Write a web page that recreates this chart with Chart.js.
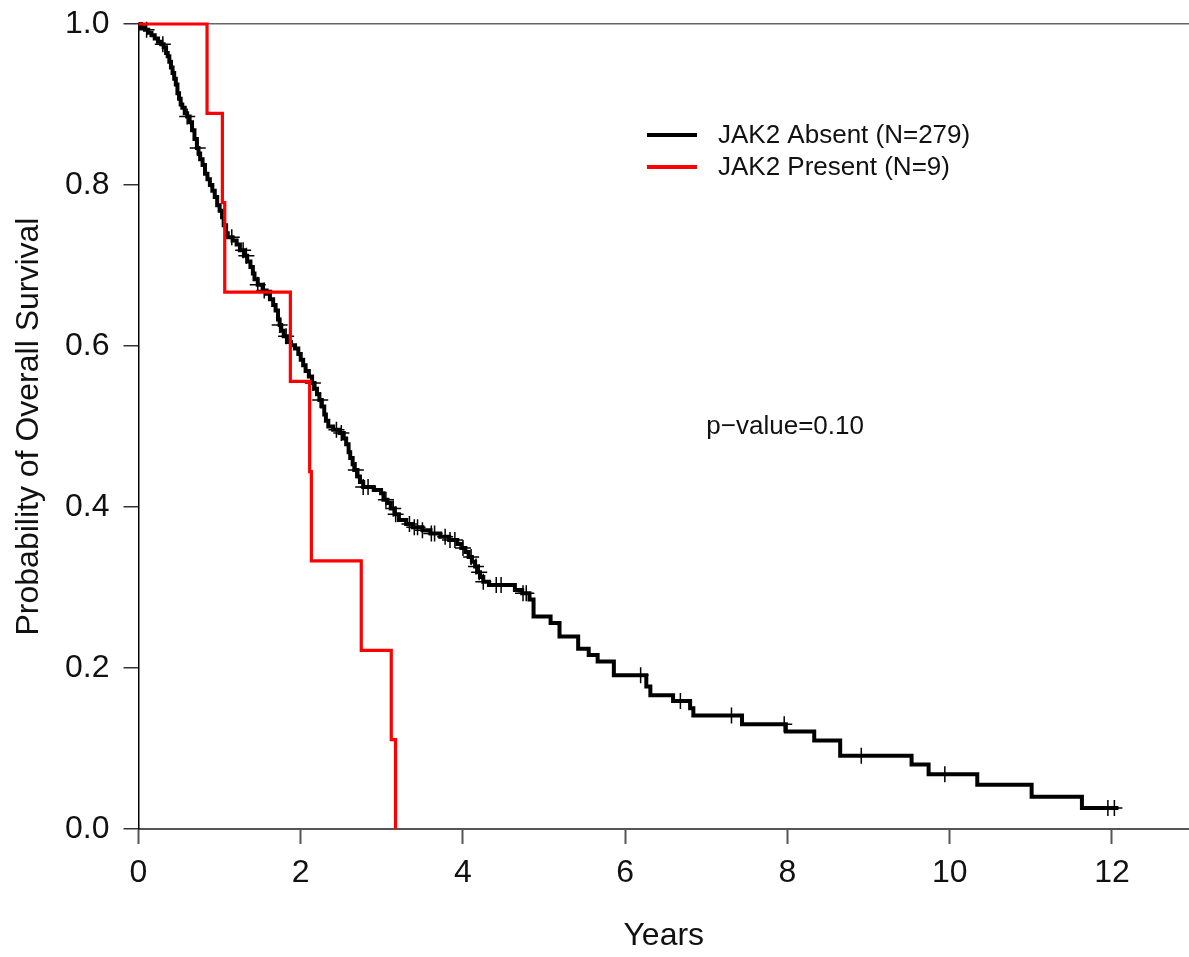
<!DOCTYPE html>
<html><head><meta charset="utf-8">
<script src="https://cdn.jsdelivr.net/npm/chart.js@4.4.1/dist/chart.umd.min.js"></script>
<style>html,body{margin:0;padding:0;background:#fff;} #wrap{width:1189px;height:957px;position:relative;}</style>
</head><body><div id="wrap"><canvas id="c"></canvas></div>
<script>
// ---- data ----
const seriesLabels = ['JAK2 Absent (N=279)', 'JAK2 Present (N=9)'];
const seriesColors = ['#000000', '#ff0000'];

const absentTimes = [0,0.03,0.08,0.12,0.16,0.20,0.24,0.28,0.31,0.34,0.36,0.38,0.40,0.42,0.44,0.46,0.48,0.50,0.52,0.54,0.57,0.60,0.63,0.66,0.69,0.72,0.74,0.76,0.79,0.82,0.85,0.88,0.91,0.94,0.97,1.00,1.03,1.05,1.08,1.10,1.16,1.21,1.25,1.30,1.34,1.38,1.41,1.43,1.47,1.53,1.58,1.62,1.66,1.69,1.72,1.74,1.76,1.79,1.83,1.88,1.93,1.97,2.00,2.03,2.06,2.10,2.14,2.17,2.20,2.23,2.26,2.29,2.31,2.34,2.40,2.48,2.53,2.56,2.59,2.61,2.64,2.66,2.70,2.73,2.77,2.90,2.99,3.02,3.07,3.11,3.16,3.21,3.30,3.38,3.50,3.60,3.72,3.83,3.93,3.98,4.03,4.07,4.11,4.15,4.18,4.21,4.25,4.32,4.64,4.73,4.82,4.87,5.08,5.19,5.42,5.55,5.66,5.86,6.26,6.31,6.59,6.80,6.84,7.44,7.98,8.33,8.65,9.53,9.74,10.34,11.01,11.63,12.08];
const absentSurv = [1,0.996,0.993,0.989,0.986,0.982,0.978,0.975,0.971,0.964,0.960,0.953,0.946,0.939,0.932,0.925,0.914,0.907,0.900,0.896,0.889,0.885,0.878,0.868,0.857,0.846,0.839,0.832,0.825,0.814,0.807,0.800,0.793,0.785,0.775,0.768,0.760,0.750,0.740,0.735,0.731,0.726,0.719,0.712,0.705,0.698,0.690,0.683,0.676,0.669,0.665,0.658,0.651,0.644,0.633,0.626,0.619,0.612,0.605,0.601,0.597,0.590,0.583,0.576,0.569,0.562,0.554,0.547,0.540,0.533,0.525,0.515,0.507,0.500,0.496,0.492,0.485,0.478,0.468,0.461,0.453,0.446,0.438,0.431,0.425,0.421,0.417,0.409,0.405,0.398,0.391,0.384,0.379,0.375,0.371,0.367,0.363,0.359,0.354,0.349,0.344,0.338,0.332,0.326,0.319,0.313,0.307,0.303,0.297,0.293,0.285,0.264,0.256,0.239,0.224,0.216,0.208,0.191,0.177,0.166,0.159,0.150,0.141,0.130,0.121,0.110,0.091,0.080,0.068,0.055,0.040,0.026,0.026];
const absentCensorTimes = [0.10,0.30,0.60,0.73,1.15,1.29,1.33,1.47,1.55,1.74,1.82,2.15,2.24,2.44,2.50,2.68,2.77,2.83,3.05,3.14,3.17,3.34,3.40,3.44,3.50,3.61,3.65,3.78,3.84,3.90,4.00,4.10,4.16,4.20,4.25,4.41,4.47,4.74,4.78,6.19,6.68,7.31,7.96,8.91,9.94,11.95,12.03];

const presentTimes = [0,0.845,1.034,1.063,1.872,2.110,2.131,2.746,3.116,3.169];
const presentSurv = [1,0.889,0.778,0.667,0.556,0.444,0.333,0.222,0.111,0];

const xTickValues = [0,2,4,6,8,10,12];
const yTickValues = [0,0.2,0.4,0.6,0.8,1.0];
const xTitle = 'Years';
const yTitle = 'Probability of Overall Survival';
const pValueText = 'p\u2212value=0.10';
const pValuePos = [7.0, 0.5];

// ---- build datasets ----
const toXY = (ts, ss) => ts.map((t, i) => ({x: t, y: ss[i]}));
function survAt(t) {
  let s = absentSurv[0];
  for (let i = 0; i < absentTimes.length; i++) { if (absentTimes[i] <= t) s = absentSurv[i]; }
  return s;
}
const censorPts = absentCensorTimes.map(t => ({x: t, y: survAt(t)}));

const FONT = '"Liberation Sans", Arial, Helvetica, sans-serif';

const annotPlugin = {
  id: 'annot',
  afterDatasetsDraw(chart) {
    const ctx = chart.ctx;
    ctx.save();
    ctx.font = '26px ' + FONT;
    ctx.textBaseline = 'middle';
    ctx.textAlign = 'left';
    const rows = [135, 167];
    [0, 1].forEach((di, k) => {
      const ds = chart.data.datasets[di];
      ctx.strokeStyle = ds.borderColor;
      ctx.lineWidth = 4;
      ctx.beginPath();
      ctx.moveTo(647, rows[k]);
      ctx.lineTo(697, rows[k]);
      ctx.stroke();
      ctx.fillStyle = '#111';
      ctx.fillText(ds.label, 718, rows[k] + 1);
    });
    const xs = chart.scales.x, ys = chart.scales.y;
    ctx.fillStyle = '#111';
    ctx.fillText(pValueText, xs.getPixelForValue(pValuePos[0]), ys.getPixelForValue(pValuePos[1]));
    ctx.restore();
  }
};

new Chart(document.getElementById('c'), {
  type: 'line',
  data: {
    datasets: [
      {label: seriesLabels[0], data: toXY(absentTimes, absentSurv), borderColor: seriesColors[0], borderWidth: 4, stepped: true, pointRadius: 0, fill: false, clip: false, order: 1},
      {label: seriesLabels[1], data: toXY(presentTimes, presentSurv), borderColor: seriesColors[1], borderWidth: 3.2, stepped: true, pointRadius: 0, fill: false, clip: false, order: 0},
      {label: 'censored', data: censorPts, showLine: false, pointStyle: 'cross', pointRadius: 8, pointBorderWidth: 1.5, borderColor: '#000', backgroundColor: '#000', clip: false, order: 2}
    ]
  },
  plugins: [annotPlugin],
  options: {
    responsive: true,
    maintainAspectRatio: false,
    animation: false,
    events: [],
    layout: {autoPadding: false, padding: {top: 24, right: 0, bottom: 0, left: 0}},
    plugins: {legend: {display: false}, tooltip: {enabled: false}},
    scales: {
      x: {
        type: 'linear', min: 0, max: 12.95,
        afterBuildTicks: s => { s.ticks = xTickValues.map(v => ({value: v})); },
        afterFit: s => { s.height = 128; s.paddingLeft = 0; s.paddingRight = 0; },
        ticks: {font: {family: FONT, size: 32}, color: '#111', padding: 10, maxRotation: 0, callback: v => String(v)},
        grid: {drawOnChartArea: false, drawTicks: true, tickLength: 15, tickColor: '#555', tickWidth: 2},
        border: {display: true, color: '#555', width: 2},
        title: {display: true, text: xTitle, font: {family: FONT, size: 32}, color: '#111', padding: {top: 4, bottom: 2}}
      },
      y: {
        type: 'linear', min: 0, max: 1,
        afterBuildTicks: s => { s.ticks = yTickValues.map(v => ({value: v})); },
        afterFit: s => { s.width = 138.5; s.paddingTop = 0; s.paddingBottom = 0; },
        ticks: {font: {family: FONT, size: 32}, color: '#111', padding: 14, callback: v => Number(v).toFixed(1)},
        grid: {drawOnChartArea: true, drawTicks: true, tickLength: 15, tickColor: '#333', tickWidth: 1.5,
               color: c => (c.tick && c.tick.value === 1 ? '#666' : 'rgba(0,0,0,0)'), lineWidth: 1.5},
        border: {display: true, color: '#000', width: 1.5},
        title: {display: true, text: yTitle, font: {family: FONT, size: 32}, color: '#111', padding: {top: 10, bottom: 4}}
      }
    }
  }
});
</script>
</body></html>
